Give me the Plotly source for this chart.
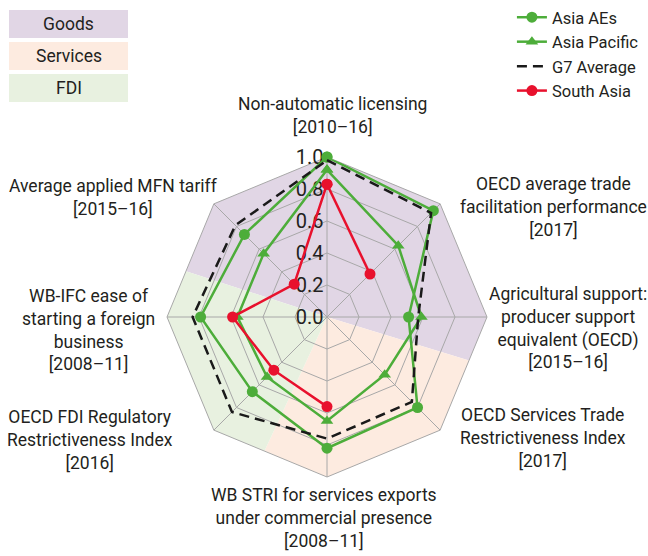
import numpy as np
import plotly.graph_objects as go

# ---------------- data ----------------
categories = [
    "Non-automatic licensing<br>[2010–16]",
    "OECD average trade<br>facilitation performance<br>[2017]",
    "Agricultural support:<br>producer support<br>equivalent (OECD)<br>[2015–16]",
    "OECD Services Trade<br>Restrictiveness Index<br>[2017]",
    "WB STRI for services exports<br>under commercial presence<br>[2008–11]",
    "OECD FDI Regulatory<br>Restrictiveness Index<br>[2016]",
    "WB-IFC ease of<br>starting a foreign<br>business<br>[2008–11]",
    "Average applied MFN tariff<br>[2015–16]",
]
asia_aes = [1.00, 0.94, 0.51, 0.80, 0.82, 0.66, 0.79, 0.73]
asia_pacific = [0.92, 0.63, 0.59, 0.51, 0.65, 0.53, 0.56, 0.56]
g7_average = [0.98, 0.92, 0.57, 0.75, 0.76, 0.84, 0.84, 0.81]
south_asia = [0.83, 0.38, None, None, 0.56, 0.47, 0.59, 0.29]
radial_ticks = [0.0, 0.2, 0.4, 0.6, 0.8, 1.0]

sector_names = ["Goods", "Services", "FDI"]
sector_start = [288, 107, 205]   # degrees clockwise from north
sector_end = [467, 205, 288]
sector_colors = ["#E1D6E5", "#FDEBE0", "#E8F1E0"]

GREEN = "#4DAD3A"
RED = "#E8112D"
FONT = "Roboto, 'Liberation Sans', sans-serif"
TXT = "#231F20"

fig = go.Figure()

# ---------------- background sectors (clipped to the octagon) ----------------
n_axes = len(categories)
step = 360 / n_axes


def edge_r(theta):
    t = np.mod(theta, step) - step / 2
    return np.cos(np.radians(step / 2)) / np.cos(np.radians(t))


for name, a, b, col in zip(sector_names, sector_start, sector_end, sector_colors):
    inner = [v for v in np.arange(0, 720 + step, step) if a < v < b]
    th = [a] + inner + [b]
    rr = [float(edge_r(t)) for t in th]
    fig.add_trace(go.Scatterpolar(
        r=[0] + rr + [0], theta=[a] + th + [a], mode="lines", fill="toself",
        fillcolor=col, line=dict(width=0, color=col), showlegend=False,
        hoverinfo="skip", subplot="polar"))

# ---------------- series ----------------
theta_closed = categories + [categories[0]]


def closed(v):
    return list(v) + [v[0]]


fig.add_trace(go.Scatterpolar(
    r=closed(asia_aes), theta=theta_closed, name="Asia AEs", subplot="polar2",
    mode="lines+markers", line=dict(color=GREEN, width=2.5),
    marker=dict(symbol="circle", size=11, color=GREEN)))
fig.add_trace(go.Scatterpolar(
    r=closed(asia_pacific), theta=theta_closed, name="Asia Pacific", subplot="polar2",
    mode="lines+markers", line=dict(color=GREEN, width=2.5),
    marker=dict(symbol="triangle-up", size=11, color=GREEN)))
fig.add_trace(go.Scatterpolar(
    r=closed(g7_average), theta=theta_closed, name="G7 Average", subplot="polar2",
    mode="lines", line=dict(color="#1A1A1A", width=2.5, dash="10px,6px")))
fig.add_trace(go.Scatterpolar(
    r=closed(south_asia), theta=theta_closed, name="South Asia", subplot="polar2",
    mode="lines+markers", connectgaps=False, line=dict(color=RED, width=2.5),
    marker=dict(symbol="circle", size=11, color=RED)))

W, H = 648, 556
cx, cy, R = 327, 317, 160
dom_x = [(cx - R) / W, (cx + R) / W]
dom_y = [(H - cy - R) / H, (H - cy + R) / H]

fig.update_layout(
    width=W, height=H, margin=dict(l=0, r=0, t=0, b=0, autoexpand=False),
    paper_bgcolor="white", template="none",
    font=dict(family=FONT, color=TXT, size=17.5),
    polar=dict(
        domain=dict(x=dom_x, y=dom_y), bgcolor="rgba(0,0,0,0)",
        angularaxis=dict(rotation=90, direction="clockwise", visible=False),
        radialaxis=dict(range=[0, 1], visible=False),
    ),
    polar2=dict(
        domain=dict(x=dom_x, y=dom_y), bgcolor="rgba(0,0,0,0)", gridshape="linear",
        angularaxis=dict(rotation=90, direction="clockwise", type="category",
                         showline=True, linecolor="#A8A8A8", linewidth=1,
                         gridcolor="#A8A8A8", gridwidth=1, ticks="",
                         showticklabels=False, layer="below traces"),
        radialaxis=dict(range=[0, 1], angle=90, tickangle=90, side="counterclockwise",
                        tickvals=radial_ticks, tickformat=".1f", showline=False,
                        ticks="", gridcolor="#A8A8A8", gridwidth=1,
                        layer="below traces",
                        tickfont=dict(family=FONT, size=20, color=TXT)),
    ),
    legend=dict(x=0.79, y=1.0, xanchor="left", yanchor="top",
                bgcolor="rgba(0,0,0,0)", font=dict(family=FONT, size=16.5, color=TXT),
                tracegroupgap=0),
)

# ---------------- category labels (centred blocks around the octagon) ----------------
label_xy = [(332, 115), (553, 207), (568, 328), (543, 438),
            (324, 518), (90, 440), (88, 330), (113, 197)]
for text, (lx, ly) in zip(categories, label_xy):
    fig.add_annotation(xref="paper", yref="paper", x=lx / W, y=1 - ly / H,
                       text=text, showarrow=False, xanchor="center", yanchor="middle",
                       align="center", font=dict(family=FONT, size=17.5, color=TXT))

# ---------------- sector key boxes ----------------
box_top = 10
box_h = 28
box_gap = 4
for i, (name, col) in enumerate(zip(sector_names, sector_colors)):
    y0 = box_top + i * (box_h + box_gap)
    y1 = y0 + box_h
    fig.add_shape(type="rect", xref="paper", yref="paper",
                  x0=9 / W, x1=128 / W, y0=1 - y1 / H, y1=1 - y0 / H,
                  fillcolor=col, line=dict(width=0), layer="below")
    fig.add_annotation(xref="paper", yref="paper", x=68.5 / W, y=1 - (y0 + y1) / 2 / H,
                       text=name, showarrow=False, xanchor="center", yanchor="middle",
                       font=dict(family=FONT, size=17.5, color=TXT))

fig.write_html("out.html", config={"displayModeBar": False},
               post_script="document.body.style.margin='0';")
